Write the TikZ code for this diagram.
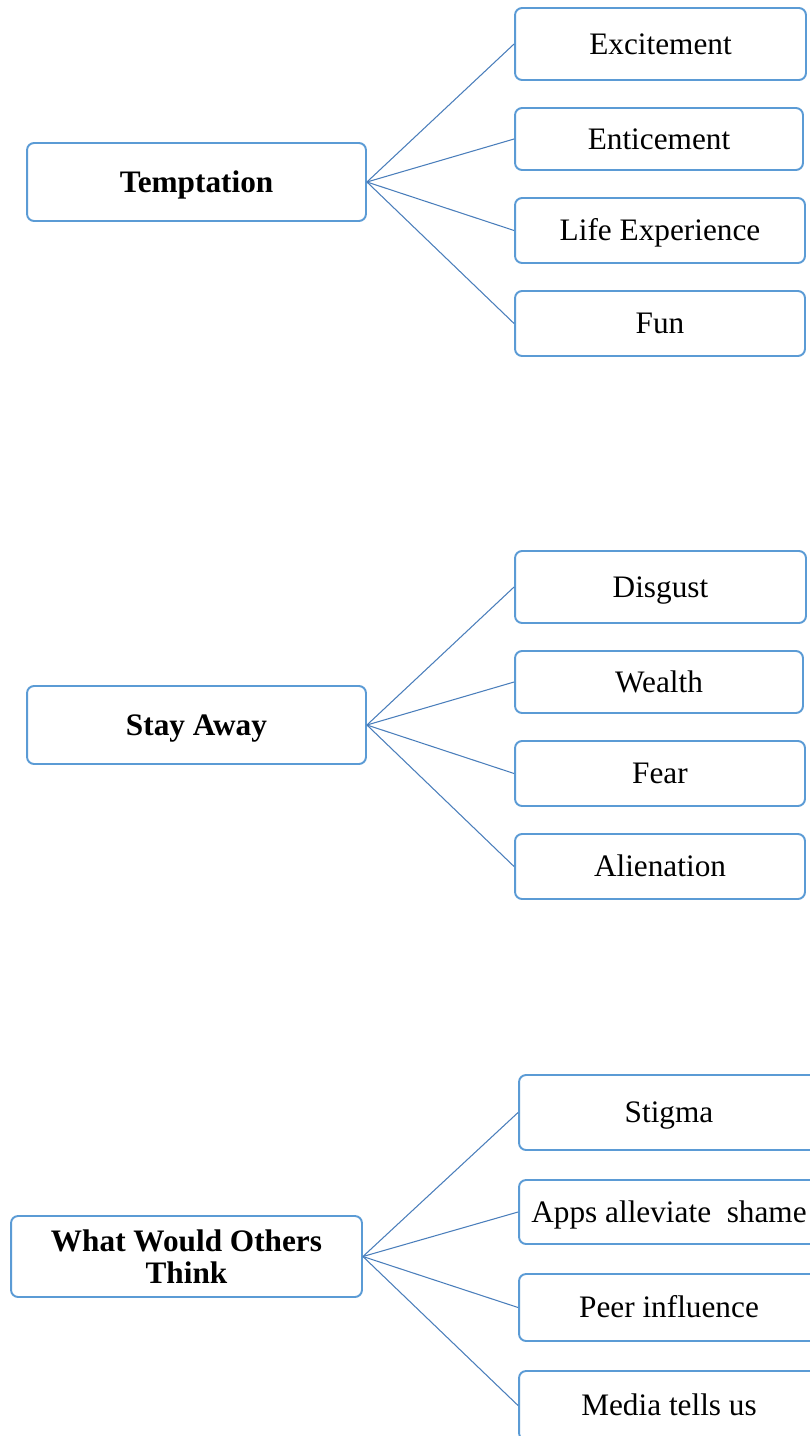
\documentclass[tikz,border=0pt]{standalone}
\usepackage{fontspec}
\setmainfont{Liberation Serif}
\definecolor{boxblue}{HTML}{5B9BD5}
\definecolor{lineblue}{HTML}{4A7EBB}
\begin{document}
\begin{tikzpicture}[x=0.02cm, y=-0.02cm,
    theme/.style={draw=boxblue, line width=1.1pt, rounded corners=4pt, fill=white,
        align=center, font=\fontsize{17.8}{18.4}\selectfont\bfseries, inner sep=2pt},
    item/.style={draw=boxblue, line width=1.1pt, rounded corners=4pt, fill=white,
        align=center, font=\fontsize{17.8}{18.4}\selectfont, inner sep=2pt,
        text height=15pt, text depth=3.6pt},
    link/.style={draw=lineblue, line width=0.6pt}]
    \clip (0, 0) rectangle (810, 1436);

    % Temptation
    \node[theme, text height=15pt, text depth=3.6pt, minimum width=6.78cm, minimum height=1.56cm] (tempt) at (196.5, 182) {Temptation};
    \node[item, minimum width=5.82cm, minimum height=1.44cm] (excite) at (660.5, 44) {Excitement};
    \node[item, minimum width=5.76cm, minimum height=1.24cm] (entice) at (659, 139) {Enticement};
    \node[item, minimum width=5.80cm, minimum height=1.30cm] (lifeexp) at (660, 230.5) {Life Experience};
    \node[item, minimum width=5.80cm, minimum height=1.30cm] (fun) at (660, 323.5) {Fun};
    \draw[link] (tempt.east) -- (excite.west);
    \draw[link] (tempt.east) -- (entice.west);
    \draw[link] (tempt.east) -- (lifeexp.west);
    \draw[link] (tempt.east) -- (fun.west);

    % Stay Away
    \node[theme, text height=15pt, text depth=3.6pt, minimum width=6.78cm, minimum height=1.56cm] (away) at (196.5, 725) {Stay Away};
    \node[item, minimum width=5.82cm, minimum height=1.44cm] (disgust) at (660.5, 587) {Disgust};
    \node[item, minimum width=5.76cm, minimum height=1.24cm] (wealth) at (659, 682) {Wealth};
    \node[item, minimum width=5.80cm, minimum height=1.30cm] (fear) at (660, 773.5) {Fear};
    \node[item, minimum width=5.80cm, minimum height=1.30cm] (alien) at (660, 866.5) {Alienation};
    \draw[link] (away.east) -- (disgust.west);
    \draw[link] (away.east) -- (wealth.west);
    \draw[link] (away.east) -- (fear.west);
    \draw[link] (away.east) -- (alien.west);

    % What Would Others Think
    \node[theme, minimum width=7.02cm, minimum height=1.62cm] (others) at (186.5, 1256.5) {What Would Others\\Think};
    \node[item, minimum width=6.00cm, minimum height=1.50cm] (stigma) at (669, 1112.5) {Stigma};
    \node[item, minimum width=6.00cm, minimum height=1.28cm] (apps) at (669, 1212) {Apps alleviate\ \ shame};
    \node[item, minimum width=6.00cm, minimum height=1.34cm] (peer) at (669, 1307.5) {Peer influence};
    \node[item, minimum width=6.00cm, minimum height=1.38cm] (media) at (669, 1405.5) {Media tells us};
    \draw[link] (others.east) -- (stigma.west);
    \draw[link] (others.east) -- (apps.west);
    \draw[link] (others.east) -- (peer.west);
    \draw[link] (others.east) -- (media.west);
\end{tikzpicture}
\end{document}
